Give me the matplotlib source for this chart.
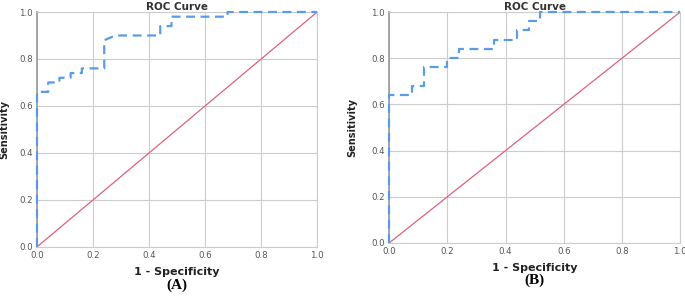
import matplotlib.pyplot as plt

# ROC curve points (1 - specificity, sensitivity)
fprA = [0.0, 0.0, 0.04, 0.04, 0.08, 0.08, 0.12, 0.12, 0.16, 0.16, 0.24, 0.24, 0.28, 0.44, 0.44, 0.48, 0.48, 0.68, 0.68, 1.0]
tprA = [0.0, 0.66, 0.66, 0.70, 0.70, 0.72, 0.72, 0.74, 0.74, 0.76, 0.76, 0.88, 0.90, 0.90, 0.94, 0.94, 0.98, 0.98, 1.0, 1.0]

fprB = [0.0, 0.0, 0.08, 0.08, 0.12, 0.12, 0.20, 0.20, 0.24, 0.24, 0.36, 0.36, 0.44, 0.44, 0.48, 0.48, 0.52, 0.52, 1.0]
tprB = [0.0, 0.64, 0.64, 0.68, 0.68, 0.76, 0.76, 0.80, 0.80, 0.84, 0.84, 0.88, 0.88, 0.92, 0.92, 0.96, 0.96, 1.0, 1.0]

ticks = [0.0, 0.2, 0.4, 0.6, 0.8, 1.0]
tickLabels = ['0.0', '0.2', '0.4', '0.6', '0.8', '1.0']
panelNames = ['(A)', '(B)']

fig = plt.figure(figsize=(6.85, 3.0), dpi=100)
axA = fig.add_axes([0.054, 0.177, 0.409, 0.783])
axB = fig.add_axes([0.568, 0.19, 0.425, 0.77])

def drawPanel(ax, fpr, tpr, name, ylabX, nameY):
  ax.plot([0, 1], [0, 1], color='#e0607a', lw=0.9, zorder=2)
  ax.plot(fpr, tpr, color='#5b9be6', lw=1.6, ls=(0, (4, 2.5)), zorder=4, clip_on=False)
  ax.set_xlim(0, 1)
  ax.set_ylim(0, 1)
  ax.set_xticks(ticks)
  ax.set_yticks(ticks)
  ax.set_xticklabels(tickLabels)
  ax.set_yticklabels(tickLabels)
  ax.tick_params(labelsize=6.2, colors='#555555', length=0, pad=3)
  ax.grid(color='#cccccc', lw=0.8)
  for s in ax.spines.values():
    s.set_color('#cccccc')
  ax.spines['left'].set_color('#999999')
  ax.spines['left'].set_linewidth(1.2)
  ax.set_title('ROC Curve', fontsize=7.5, fontweight='bold', color='#333333', pad=1)
  ax.set_xlabel('1 - Specificity', fontsize=8, fontweight='bold', color='#222222', labelpad=5)
  ax.set_ylabel('Sensitivity', fontsize=7, fontweight='bold', color='#222222')
  ax.yaxis.set_label_coords(ylabX, 0.5)
  ax.text(0.5, nameY, name, transform=ax.transAxes, ha='center', va='top',
          fontsize=11, fontweight='bold', family='Liberation Serif')

drawPanel(axA, fprA, tprA, panelNames[0], -0.1, -0.135)
drawPanel(axB, fprB, tprB, panelNames[1], -0.11, -0.13)

fig.savefig('out.png', dpi=100)
